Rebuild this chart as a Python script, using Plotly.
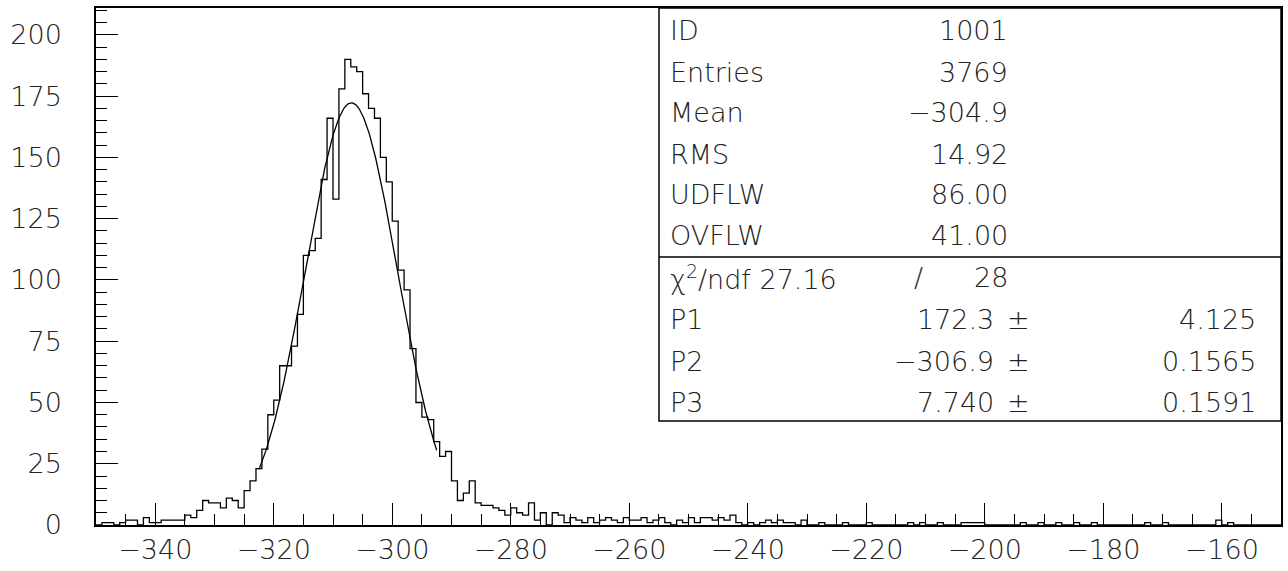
import numpy as np
import plotly.graph_objects as go

# ---------------- data ----------------
x_lo, x_hi, bin_w = -350, -150, 1

counts_a = [0, 1, 1, 0, 1, 2, 2, 0, 3, 1, 1, 2, 2, 2, 2, 4, 3, 6, 10, 9,
            9, 7, 11, 10, 7, 14, 18, 23, 31, 45, 51, 65, 65, 73, 86, 110, 112, 117, 141, 166,
            133, 178, 190, 187, 185, 176, 170, 166, 150, 140, 124, 104, 96, 72, 50, 44, 43, 34, 28, 30]
counts_b = [18, 10, 13, 18, 9, 8, 8, 7, 6, 4, 7, 5, 4, 9, 2, 5, 0, 5, 4, 1,
            3, 2, 1, 3, 1, 2, 3, 2, 1, 3, 2, 2, 3, 1, 2, 3, 1, 0, 2, 1,
            3, 1, 3, 3, 2, 3, 2, 4, 1, 0, 1, 0, 1, 2, 1, 2, 1, 1, 0, 2]
counts_c = [0, 0, 1, 0, 0, 0, 1, 0, 0, 0, 1, 0, 0, 0, 0, 0, 0, 1, 0, 1,
            0, 0, 1, 0, 0, 0, 1, 1, 1, 1, 0, 0, 0, 0, 0, 0, 1, 0, 0, 1,
            0, 0, 1, 0, 0, 1, 0, 0, 1, 0, 0, 0, 0, 0, 0, 0, 0, 1, 0, 0,
            1, 0, 0, 0, 0, 0, 0, 0, 0, 2, 0, 1, 0, 0, 0, 0, 0, 0, 0, 0]
counts = counts_a + counts_b + counts_c

# fit parameters (Gaussian)
P1, P2, P3 = 172.3, -306.9, 7.740
fit_lo, fit_hi = -322.5, -292.5

stat_labels = ["ID", "Entries", "Mean", "RMS", "UDFLW", "OVFLW"]
stat_values = ["1001", "3769", "\u2212304.9", "14.92", "86.00", "41.00"]
chi2_text, ndf_text = "27.16", "28"
par_labels = ["P1", "P2", "P3"]
par_values = ["172.3", "\u2212306.9", "7.740"]
par_errors = ["4.125", "0.1565", "0.1591"]

# ---------------- figure ----------------
W, H = 1288, 571
ML, MR, MT, MB = 96, 7, 8, 46
PW, PH = W - ML - MR, H - MT - MB


def px(x):
    return (x - ML) / PW


def py(y):
    return (H - MB - y) / PH


edges = x_lo + bin_w * np.arange(len(counts) + 1)
hx = np.concatenate([[x_lo], edges, [x_hi]])
hy = np.concatenate([[0], counts, [counts[-1]], [0]])

fx = np.linspace(fit_lo, fit_hi, 300)
fy = P1 * np.exp(-0.5 * ((fx - P2) / P3) ** 2)

fig = go.Figure()
fig.add_trace(go.Scatter(x=hx, y=hy, mode="lines", line_shape="hv",
                         line=dict(color="black", width=1.3), hoverinfo="skip"))
fig.add_trace(go.Scatter(x=fx, y=fy, mode="lines",
                         line=dict(color="black", width=1.3), hoverinfo="skip"))

FONT = "DejaVu Sans"
WEIGHT = 200
tcol = "#222222"
fsize = 27

fig.update_layout(
    width=W, height=H,
    margin=dict(l=ML, r=MR, t=MT, b=MB, pad=0, autoexpand=False),
    paper_bgcolor="white", plot_bgcolor="white",
    showlegend=False,
    font=dict(family=FONT, size=fsize, color=tcol, weight=WEIGHT),
)
axis_common = dict(showgrid=False, zeroline=False, showline=True, linecolor="black",
                   linewidth=1.5, mirror=True, ticks="inside", ticklen=22, tickwidth=1.3,
                   tickcolor="black", automargin=False,
                   tickfont=dict(family=FONT, size=fsize, color=tcol, weight=WEIGHT))
fig.update_xaxes(range=[x_lo, x_hi], tickmode="linear", tick0=-340, dtick=20,
                 minor=dict(ticks="inside", ticklen=11, dtick=5, tick0=-350,
                            tickwidth=1.3, tickcolor="black"),
                 ticklabelstandoff=0, **axis_common)
fig.update_yaxes(range=[0, 211], tickmode="linear", tick0=0, dtick=25,
                 minor=dict(ticks="inside", ticklen=11, dtick=5, tick0=0,
                            tickwidth=1.3, tickcolor="black"),
                 ticklabelstandoff=27, **axis_common)

# stats box
box_l, box_b, box_div = 659, 421, 257
fig.add_shape(type="rect", xref="paper", yref="paper", x0=px(box_l), x1=1, y0=py(box_b), y1=1,
              line=dict(color="black", width=1.5), fillcolor="white", layer="above")
fig.add_shape(type="line", xref="paper", yref="paper", x0=px(box_l), x1=1,
              y0=py(box_div), y1=py(box_div), line=dict(color="black", width=1.5))

row_y = [31, 72, 113, 154, 195, 236, 277, 319, 361, 402]
lab_x, val_x, pm_x, err_x = 668, 1010, 1018, 1258


def ann(text, x, y, anchor):
    fig.add_annotation(text=text, xref="paper", yref="paper", x=px(x), y=py(y),
                       xanchor=anchor, yanchor="middle", showarrow=False,
                       font=dict(family=FONT, size=fsize, color=tcol, weight=WEIGHT))


for i, (lab, val) in enumerate(zip(stat_labels, stat_values)):
    ann(lab, lab_x, row_y[i], "left")
    ann(val, val_x, row_y[i], "right")

ann("\u03c7<sup>2</sup>/ndf " + chi2_text, lab_x, row_y[6], "left")
ann("/", 918, row_y[6], "center")
ann(ndf_text, val_x, row_y[6], "right")
for j, (lab, val, err) in enumerate(zip(par_labels, par_values, par_errors)):
    y = row_y[7 + j]
    ann(lab, lab_x, y, "left")
    ann(val, 996, y, "right")
    ann("\u00b1", pm_x, y, "center")
    ann(err, err_x, y, "right")

fig.write_html("out.html", config={"displayModeBar": False},
               post_script="document.body.style.margin='0';"
                           "document.body.style.overflow='hidden';")
